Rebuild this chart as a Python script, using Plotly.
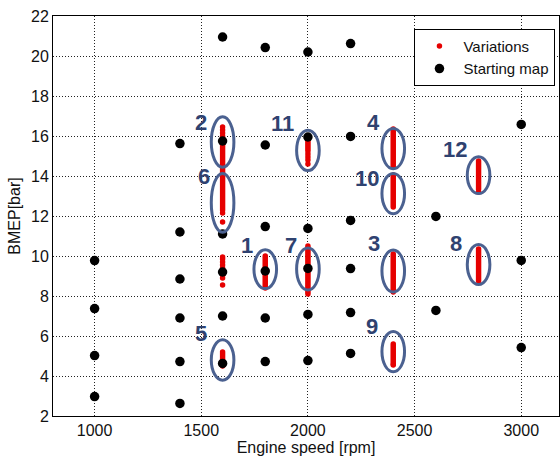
import plotly.graph_objects as go

# ---- Starting map (black points) ----
map_speed = [1000, 1000, 1000, 1000,
             1400, 1400, 1400, 1400, 1400, 1400,
             1600, 1600, 1600, 1600, 1600, 1600,
             1800, 1800, 1800, 1800, 1800, 1800,
             2000, 2000, 2000, 2000, 2000, 2000,
             2200, 2200, 2200, 2200, 2200, 2200,
             2600, 2600,
             3000, 3000, 3000]
map_bmep = [9.77, 7.37, 5.02, 2.97,
            15.62, 11.2, 8.85, 6.9, 4.72, 2.63,
            20.95, 15.75, 11.1, 9.2, 7.0, 4.63,
            20.42, 15.55, 11.47, 9.25, 6.9, 4.72,
            20.2, 15.95, 11.38, 9.38, 7.08, 4.77,
            20.62, 15.98, 11.78, 9.37, 7.17, 5.13,
            11.98, 7.28,
            16.58, 9.78, 5.42]

# ---- Variations (red points), by engine speed ----
var_1600 = [16.45, 16.3, 16.15, 16.0, 15.9, 15.8, 15.7, 15.6, 15.5, 15.4, 15.3,
            15.2, 15.1, 15.0, 14.9, 14.8, 14.7, 14.6, 14.5, 14.4, 14.3, 14.2,
            14.1, 14.0, 13.9, 13.8, 13.7, 13.6, 13.5, 13.4, 13.3, 13.2, 13.1,
            13.0, 12.9, 12.8, 12.7, 12.6, 12.5, 12.4, 12.3, 12.15, 11.7,
            9.95, 9.85, 9.7, 9.55, 9.4, 9.05, 8.9, 8.55,
            5.2, 5.1, 5.0, 4.9, 4.8, 4.7, 4.6, 4.5]
var_1800 = [10.0, 9.9, 9.8, 9.7, 9.6, 9.5, 9.4, 9.3, 9.2, 9.1, 9.0, 8.9,
            8.8, 8.7, 8.6, 8.5, 8.4]
var_2000 = [15.95, 15.85, 15.75, 15.65, 15.55, 15.45, 15.35, 15.25, 15.1,
            14.95, 14.8, 14.6,
            10.5, 10.4, 10.3, 10.2, 10.1, 10.0, 9.9, 9.8, 9.7, 9.6, 9.5, 9.4,
            9.3, 9.2, 9.1, 9.0, 8.9, 8.8, 8.7, 8.6, 8.5, 8.4, 8.3, 8.2, 8.1]
var_2400 = [16.35, 16.25, 16.15, 16.05, 15.95, 15.85, 15.75, 15.65, 15.55,
            15.45, 15.35, 15.25, 15.15, 15.05, 14.95, 14.85, 14.75, 14.65,
            14.55, 14.45,
            14.05, 13.95, 13.85, 13.75, 13.65, 13.55, 13.45, 13.35, 13.25,
            13.15, 13.05, 12.95, 12.85, 12.75, 12.65, 12.55, 12.45,
            10.1, 10.0, 9.9, 9.8, 9.7, 9.6, 9.5, 9.4, 9.3, 9.2, 9.1, 9.0,
            8.9, 8.8, 8.7, 8.6, 8.5, 8.4, 8.3, 8.2,
            5.6, 5.5, 5.4, 5.3, 5.2, 5.1, 5.0, 4.9, 4.8, 4.7, 4.6, 4.55]
var_2800 = [14.75, 14.65, 14.55, 14.45, 14.35, 14.25, 14.15, 14.05, 13.95,
            13.85, 13.75, 13.65, 13.55, 13.45, 13.35, 13.2,
            10.35, 10.25, 10.15, 10.05, 9.95, 9.85, 9.75, 9.65, 9.55, 9.45,
            9.35, 9.25, 9.15, 9.05, 8.95, 8.85, 8.75]

var_groups = {1600: var_1600, 1800: var_1800, 2000: var_2000,
              2400: var_2400, 2800: var_2800}
var_speed = [s for s, vals in var_groups.items() for _ in vals]
var_bmep = [v for vals in var_groups.values() for v in vals]

# ---- Highlight ellipses (group label, speed, centre BMEP, half height) ----
group_labels = ["1", "2", "3", "4", "5", "6", "7", "8", "9", "10", "11", "12"]
group_speed = [1800, 1600, 2400, 2400, 1600, 1600, 2000, 2800, 2400, 2400, 2000, 2800]
group_center = [9.34, 15.7, 9.25, 15.37, 4.8, 12.66, 9.35, 9.57, 5.22, 13.12, 15.28, 14.04]
group_half = [0.97, 1.26, 1.05, 1.01, 1.01, 1.47, 1.05, 1.0, 1.01, 1.01, 1.01, 0.92]
label_x = [1714, 1500, 2309, 2306, 1497, 1511, 1922, 2695, 2301, 2278, 1883, 2688]
label_y = [10.55, 16.7, 10.63, 16.7, 6.13, 14.0, 10.55, 10.63, 6.47, 13.87, 16.65, 15.32]

ELL_HALF_W = 53
ELL_COLOR = "#4b6190"
LBL_COLOR = "#2f4270"
FONT = "Arial, Liberation Sans, sans-serif"

fig = go.Figure()
fig.add_trace(go.Scatter(
    x=var_speed, y=var_bmep, mode="markers", name="Variations",
    marker=dict(color="#e60000", size=5.5, line=dict(width=0)),
))
fig.add_trace(go.Scatter(
    x=map_speed, y=map_bmep, mode="markers", name="Starting map",
    marker=dict(color="black", size=9.5, line=dict(width=0)),
))

shapes = []
for s, c, h in zip(group_speed, group_center, group_half):
    shapes.append(dict(type="circle", xref="x", yref="y",
                       x0=s - ELL_HALF_W, x1=s + ELL_HALF_W, y0=c - h, y1=c + h,
                       line=dict(color=ELL_COLOR, width=3), layer="above"))

annotations = []
for t, x, y in zip(group_labels, label_x, label_y):
    annotations.append(dict(x=x, y=y, xref="x", yref="y", text="<b>%s</b>" % t,
                            showarrow=False, xanchor="center", yanchor="middle",
                            font=dict(size=22, color=LBL_COLOR, family=FONT)))

axis_common = dict(showline=True, linecolor="black", linewidth=1, mirror=True,
                   showgrid=True, gridcolor="#222222", gridwidth=1, griddash="1px,2px",
                   zeroline=False, ticks="", automargin=False,
                   tickfont=dict(size=16, color="#111111", family=FONT))

fig.update_layout(
    width=560, height=459,
    margin=dict(l=53, r=1, t=16, b=43),
    paper_bgcolor="white", plot_bgcolor="white",
    font=dict(family=FONT, color="#111111"),
    shapes=shapes, annotations=annotations,
    showlegend=True,
    legend=dict(x=0.993, y=0.968, xanchor="right", yanchor="top",
                bgcolor="white", bordercolor="black", borderwidth=1,
                font=dict(size=15, color="#111111", family=FONT),
                itemwidth=38, tracegroupgap=0),
    xaxis=dict(range=[805, 3177], tickvals=[1000, 1500, 2000, 2500, 3000],
               title=dict(text="Engine speed [rpm]", font=dict(size=16), standoff=3),
               **axis_common),
    yaxis=dict(range=[2, 22], tickvals=[2, 4, 6, 8, 10, 12, 14, 16, 18, 20, 22],
               title=dict(text="BMEP[bar]", font=dict(size=16), standoff=6),
               **axis_common),
)

# remove the default page margin so the 560x459 figure fills the window exactly
page_fix = ("document.documentElement.style.overflow='hidden';"
            "document.body.style.overflow='hidden';"
            "document.body.style.margin='0';")
fig.write_html("out.html", post_script=page_fix,
               config={"displayModeBar": False, "staticPlot": True})
